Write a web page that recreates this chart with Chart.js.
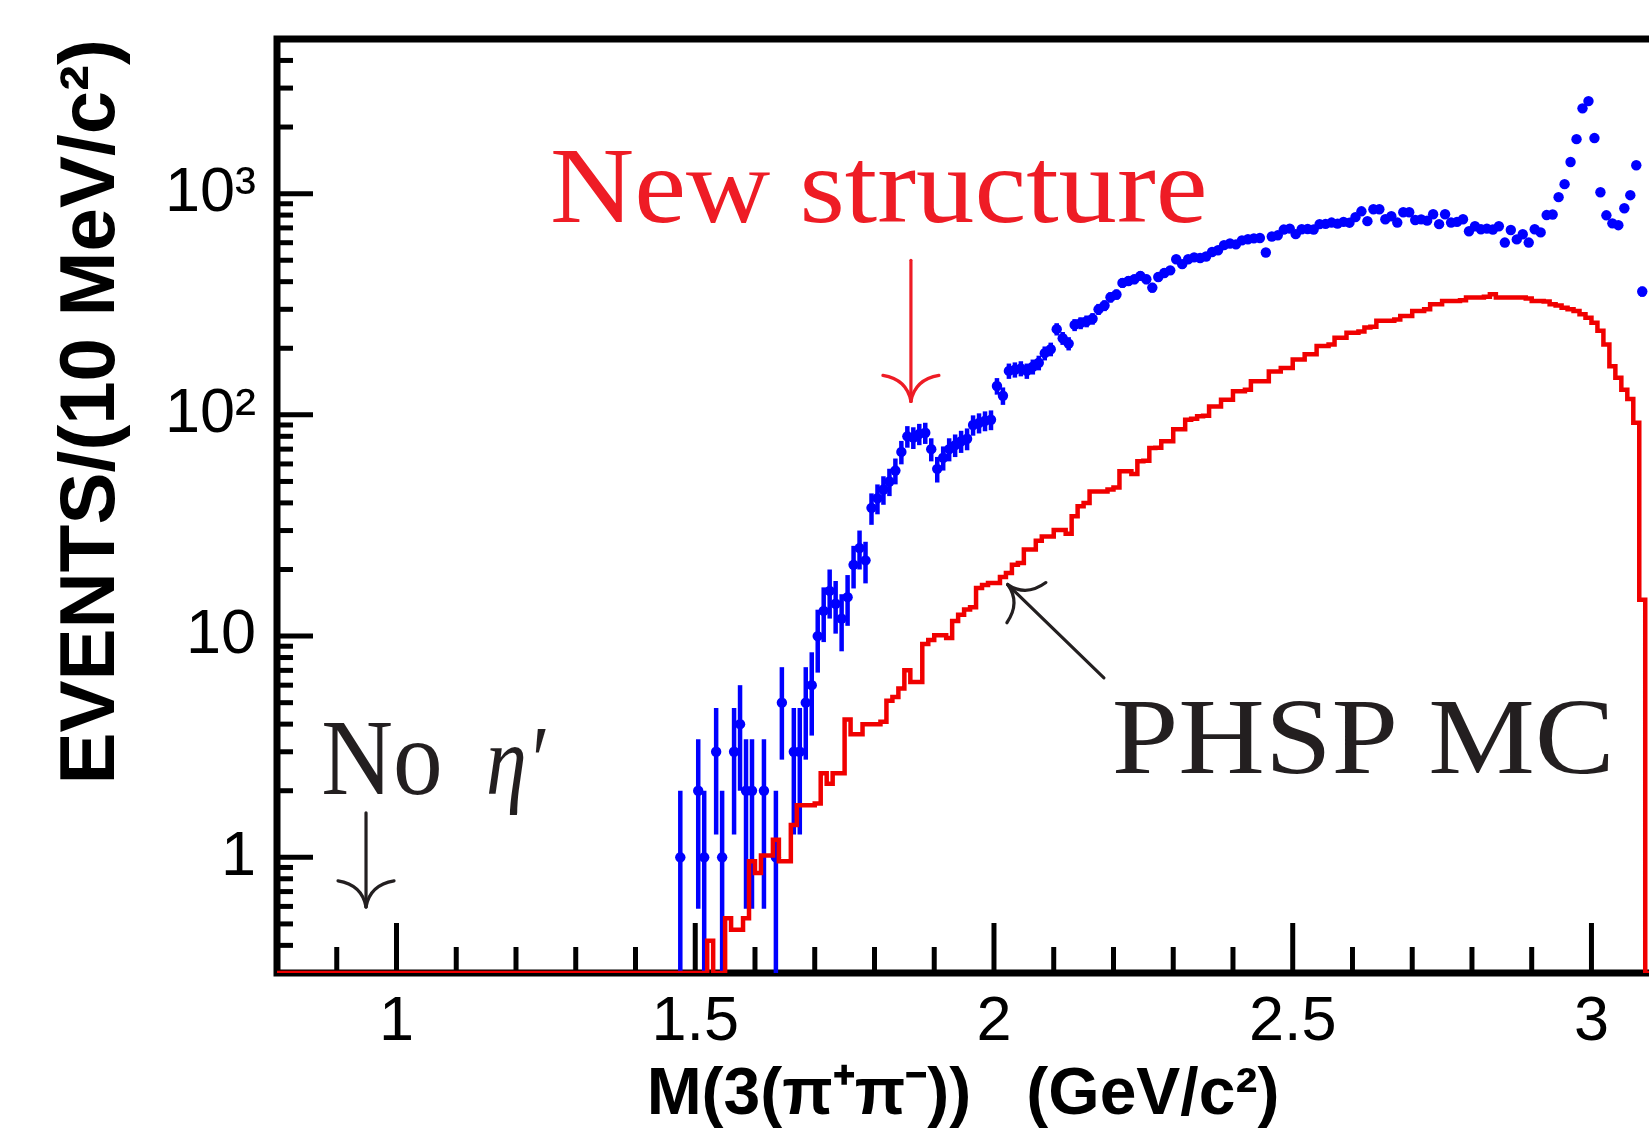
<!DOCTYPE html>
<html><head><meta charset="utf-8">
<script src="https://cdn.jsdelivr.net/npm/chart.js@4/dist/chart.umd.min.js"></script>
<style>html,body{margin:0;padding:0;background:#fff;overflow:hidden}</style>
</head><body><canvas id="c" width="1649" height="1133"></canvas>
<script>
// ---- data: blue points (bin centres in GeV/c^2, events per 10 MeV) ----
const blueMass = [1.475,1.505,1.515,1.535,1.545,1.565,1.575,1.585,1.595,1.615,1.635,1.645,1.665,1.675,1.685,1.695,
1.705,1.715,1.725,1.735,1.745,1.755,1.765,1.775,1.785,1.795,1.805,1.815,1.825,1.835,1.845,1.855,1.865,1.875,1.885,1.895,
1.905,1.915,1.925,1.935,1.945,1.955,1.965,1.975,1.985,1.995,2.005,2.015,2.025,2.035,2.045,2.055,2.065,2.075,2.085,2.095,
2.105,2.115,2.125,2.135,2.145,2.155,2.165,2.175,2.185,2.195,2.205,2.215,2.225,2.235,2.245,2.255,2.265,2.275,2.285,2.295,
2.305,2.315,2.325,2.335,2.345,2.355,2.365,2.375,2.385,2.395,2.405,2.415,2.425,2.435,2.445,2.455,2.465,2.475,2.485,2.495,
2.505,2.515,2.525,2.535,2.545,2.555,2.565,2.575,2.585,2.595,2.605,2.615,2.625,2.635,2.645,2.655,2.665,2.675,2.685,2.695,
2.705,2.715,2.725,2.735,2.745,2.755,2.765,2.775,2.785,2.795,2.805,2.815,2.825,2.835,2.845,2.855,2.865,2.875,2.885,2.895,
2.905,2.915,2.925,2.935,2.945,2.955,2.965,2.975,2.985,2.995,3.005,3.015,3.025,3.035,3.045,3.055,3.065,3.075,3.085];
const blueCounts = [1,2,1,3,1,3,4,2,2,2,1,5,3,3,5,6,
10,13,16,14,12,15,21,25,22,38,42,46,50,56,68,80,79,82,83,70,
57,64,70,73,76,78,90,92,94,95,135,122,158,160,162,158,165,172,190,198,
244,222,210,255,260,265,272,300,312,340,350,395,403,410,425,410,376,420,438,450,
505,480,505,515,512,520,545,555,585,595,590,615,622,628,630,542,640,648,688,695,
656,690,692,688,728,730,740,732,745,739,783,832,751,850,850,766,790,740,824,824,
760,765,755,807,728,807,740,745,766,676,712,690,695,688,712,601,685,621,655,601,
690,668,800,805,964,1104,1390,1763,2430,2620,1783,1014,798,734,720,859,984,1343,361];

// ---- data: PHSP MC histogram (lower bin edges, contents) ----
const mcEdges = [0.80,1.50,1.51,1.52,1.53,1.54,1.55,1.56,1.57,1.58,1.59,1.60,1.61,1.62,1.63,1.64,1.65,1.66,1.67,1.68,1.69,
1.70,1.71,1.72,1.73,1.74,1.75,1.76,1.77,1.78,1.79,1.80,1.81,1.82,1.83,1.84,1.85,1.86,1.87,1.88,1.89,
1.90,1.91,1.92,1.93,1.94,1.95,1.96,1.97,1.98,1.99,2.00,2.01,2.02,2.03,2.04,2.05,2.06,2.07,2.08,2.09,
2.10,2.11,2.12,2.13,2.14,2.15,2.16,2.17,2.18,2.19,2.20,2.21,2.22,2.23,2.24,2.25,2.26,2.27,2.28,2.29,
2.30,2.31,2.32,2.33,2.34,2.35,2.36,2.37,2.38,2.39,2.40,2.41,2.42,2.43,2.44,2.45,2.46,2.47,2.48,2.49,
2.50,2.51,2.52,2.53,2.54,2.55,2.56,2.57,2.58,2.59,2.60,2.61,2.62,2.63,2.64,2.65,2.66,2.67,2.68,2.69,
2.70,2.71,2.72,2.73,2.74,2.75,2.76,2.77,2.78,2.79,2.80,2.81,2.82,2.83,2.84,2.85,2.86,2.87,2.88,2.89,
2.90,2.91,2.92,2.93,2.94,2.95,2.96,2.97,2.98,2.99,3.00,3.01,3.02,3.03,3.04,3.05,3.06,3.07,3.08,3.09,3.10];
const mcValues = [0,0,0,0.42,0,0,0.53,0.47,0.47,0.53,0.96,0.85,1.02,1.02,1.2,0.96,0.96,1.4,1.72,1.72,1.72,
1.75,2.4,2.15,2.4,2.4,4.2,3.6,3.6,4.0,4.0,4.0,4.1,5.1,5.3,5.8,7.0,6.2,6.2,9.2,9.6,
10.1,10.1,9.8,11.7,12.5,13.2,13.5,16.5,17,17.4,17.4,18.5,19.3,21,21.4,24.6,24.6,27,28.2,28.2,
30.2,30.2,29,34.8,38.6,40,45,45,45,46,47,55.6,55.6,54,61.7,62,70.9,71,76,76,
86,86,95,96,98.6,99,109,109,117,117,128,128,130,142,142,142,157,157,163,163,
178,178,188,188,205,205,208,223,223,235,235,238,248,250,266,266,266,270,280,280,
295,295,300,316,316,327,327,327,330,339,339,339,342,351,339,339,339,339,339,336,
327,327,325,316,312,305,300,295,285,275,261,240,208,166,147,130,118,92,14.6,0,0];

// ---- axis ticks ----
const xTickValues = [1, 1.5, 2, 2.5, 3];
const xTickLabels = ['1', '1.5', '2', '2.5', '3'];
const yTickValues = [1, 10, 100, 1000];
const yTickLabels = ['1', '10', '10²', '10³'];
const Y_MIN = 0.3, Y_MAX = 5000, X_MIN = 0.8, X_MAX = 3.0963;

const SANS = '"Liberation Sans", Arial, Helvetica, sans-serif';
const SERIF = '"Liberation Serif", "Times New Roman", serif';

function drawArrow(ctx, x0, y0, x1, y1, color) {
  const dx = x1 - x0, dy = y1 - y0, L = Math.hypot(dx, dy);
  const ux = dx / L, uy = dy / L, nx = -uy, ny = ux;
  ctx.save();
  ctx.strokeStyle = color; ctx.lineWidth = 3.2; ctx.lineCap = 'round';
  ctx.beginPath(); ctx.moveTo(x0, y0); ctx.lineTo(x1, y1); ctx.stroke();
  for (const s of [1, -1]) {
    ctx.beginPath();
    ctx.moveTo(x1, y1);
    ctx.quadraticCurveTo(x1 - ux * 22 + nx * s * 4, y1 - uy * 22 + ny * s * 4,
                         x1 - ux * 26 + nx * s * 28, y1 - uy * 26 + ny * s * 28);
    ctx.stroke();
  }
  ctx.restore();
}

function drawText(ctx, txt, x, y, font, sx) {
  ctx.font = font;
  ctx.save(); ctx.translate(x, y); ctx.scale(sx, 1); ctx.fillText(txt, 0, 0); ctx.restore();
}

const framePlugin = {
  id: 'frame',
  beforeDatasetsDraw(chart) {
    const {ctx, chartArea: a, scales: {x, y}} = chart;
    ctx.save();
    ctx.strokeStyle = '#000'; ctx.lineWidth = 5; ctx.lineCap = 'butt';
    // y ticks (inside)
    for (let d = 0.1; d <= 1000; d *= 10) {
      for (let m = 1; m <= 9; m++) {
        const v = d * m;
        if (v < y.min * 0.999 || v >= y.max) continue;
        const p = y.getPixelForValue(v);
        const len = m === 1 ? 36 : 16;
        ctx.beginPath(); ctx.moveTo(a.left, p); ctx.lineTo(a.left + len, p); ctx.stroke();
      }
    }
    // x ticks (inside)
    for (let k = 9; k <= 30; k++) {
      const v = k / 10;
      const p = x.getPixelForValue(v);
      const len = (k % 5 === 0) ? 50 : 26;
      ctx.beginPath(); ctx.moveTo(p, a.bottom); ctx.lineTo(p, a.bottom - len); ctx.stroke();
    }
    // frame (right side lies beyond the picture)
    ctx.lineWidth = 7; ctx.lineJoin = 'miter';
    ctx.beginPath();
    ctx.moveTo(a.right + 10, a.top); ctx.lineTo(a.left, a.top);
    ctx.lineTo(a.left, a.bottom); ctx.lineTo(a.right + 10, a.bottom);
    ctx.stroke();
    // error bars for data (sqrt(N) statistical errors)
    ctx.strokeStyle = '#0000ff'; ctx.lineWidth = 4.5;
    for (let i = 0; i < blueMass.length; i++) {
      const n = blueCounts[i], e = Math.sqrt(n);
      const px = x.getPixelForValue(blueMass[i]);
      const hi = y.getPixelForValue(n + e);
      const lo = (n - e) > y.min ? y.getPixelForValue(n - e) : a.bottom;
      ctx.beginPath(); ctx.moveTo(px, lo); ctx.lineTo(px, hi); ctx.stroke();
    }
    ctx.restore();
  },
  afterDatasetsDraw(chart) {
    const {ctx, scales: {x, y}} = chart;
    const X = v => x.getPixelForValue(v), Y = v => y.getPixelForValue(v);
    ctx.save();
    ctx.textBaseline = 'alphabetic'; ctx.textAlign = 'left';
    // New structure
    ctx.fillStyle = '#ee1c25';
    drawText(ctx, 'New structure', X(1.257), Y(743), '108px ' + SERIF, 1.08);
    drawArrow(ctx, X(1.861), Y(500), X(1.861), Y(115), '#ee1c25');
    // No eta'
    ctx.fillStyle = '#231f20';
    drawText(ctx, 'No', X(0.874), Y(1.93), '108px ' + SERIF, 0.92);
    drawText(ctx, 'η′', X(1.150), Y(1.93), 'italic 100px ' + SERIF, 0.82);
    drawArrow(ctx, X(0.949), Y(1.59), X(0.949), Y(0.597), '#231f20');
    // PHSP MC
    drawText(ctx, 'PHSP MC', X(2.197), Y(2.4), '108px ' + SERIF, 1.11);
    drawArrow(ctx, X(2.184), Y(6.47), X(2.023), Y(17.1), '#231f20');
    ctx.restore();
  }
};

new Chart(document.getElementById('c'), {
  data: {
    datasets: [
      {
        type: 'line', label: 'PHSP MC',
        // empty bins are drawn along the bottom of the frame, as ROOT does on a log axis
        data: mcEdges.map((e, i) => ({x: e, y: mcValues[i] > 0 ? mcValues[i] : Y_MIN})),
        stepped: 'before', borderColor: '#f00000', borderWidth: 4.5,
        pointRadius: 0, fill: false, tension: 0
      },
      {
        type: 'scatter', label: 'Data',
        data: blueMass.map((m, i) => ({x: m, y: blueCounts[i]})),
        pointRadius: 5.2, pointBackgroundColor: '#0000ff', pointBorderWidth: 0,
        borderColor: '#0000ff', showLine: false
      }
    ]
  },
  options: {
    responsive: false, animation: false,
    layout: {autoPadding: false, padding: {top: 39, right: 0, bottom: 0, left: 0}},
    plugins: {legend: {display: false}, tooltip: {enabled: false}},
    scales: {
      x: {
        type: 'linear', position: 'bottom', min: X_MIN, max: X_MAX,
        grid: {display: false, drawTicks: false}, border: {display: false},
        afterBuildTicks: s => { s.ticks = xTickValues.map(v => ({value: v})); },
        afterFit: s => { s.height = 160; s.paddingLeft = 0; s.paddingRight = 0; },
        ticks: {autoSkip: false, maxRotation: 0, padding: 12, color: '#000',
                font: {family: SANS, size: 63}, callback: (v, i) => xTickLabels[i]},
        title: {display: true, text: 'M(3(π⁺π⁻))   (GeV/c²)', color: '#000',
                font: {family: SANS, size: 66, weight: 'bold', lineHeight: 1}, padding: {top: 0, bottom: 4}}
      },
      y: {
        type: 'logarithmic', position: 'left', min: Y_MIN, max: Y_MAX,
        grid: {display: false, drawTicks: false}, border: {display: false},
        afterBuildTicks: s => { s.ticks = yTickValues.map(v => ({value: v})); },
        afterFit: s => { s.width = 277; s.paddingTop = 0; s.paddingBottom = 0; },
        ticks: {autoSkip: false, padding: 21, color: '#000',
                font: {family: SANS, size: 63}, callback: (v, i) => yTickLabels[i]},
        title: {display: true, text: 'EVENTS/(10 MeV/c²)', align: 'end', color: '#000',
                font: {family: SANS, size: 78, weight: 'bold', lineHeight: 1}, padding: {top: 53, bottom: 0}}
      }
    }
  },
  plugins: [framePlugin]
});
</script>
</body></html>
